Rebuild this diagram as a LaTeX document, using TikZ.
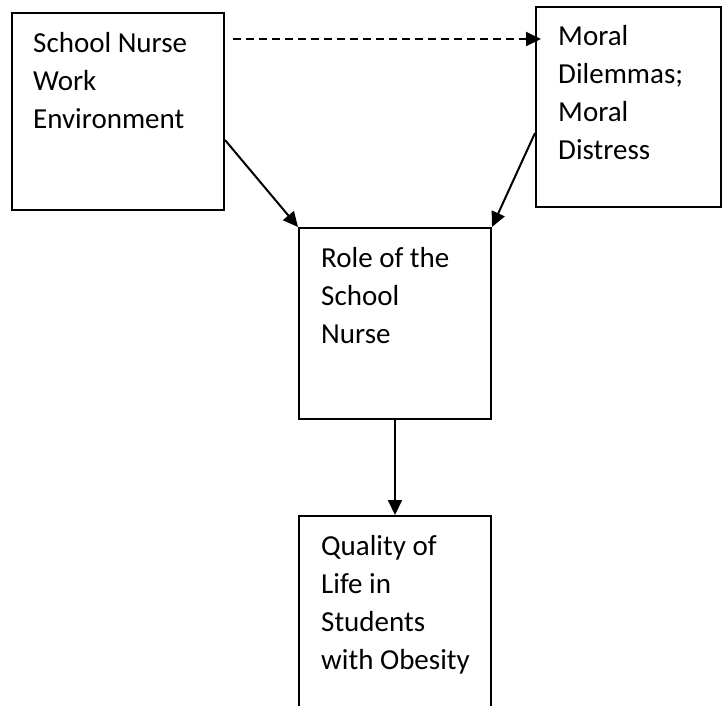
\documentclass[tikz,border=0pt]{standalone}
\usepackage{fontspec}
\setmainfont{Carlito}
\usetikzlibrary{arrows.meta}
\begin{document}
\begin{tikzpicture}[x=1pt,y=-1pt,
  box/.style={draw,line width=2pt,inner sep=0pt,minimum width=#1},
  txt/.style={anchor=base west,inner sep=0pt,align=left,font=\fontsize{29}{38}\selectfont},
  arr/.style={line width=2pt,-{Triangle[length=15pt,width=14pt]}}]
\useasboundingbox (0,0) rectangle (725,705);
\begin{scope}
\clip (0,0) rectangle (725,705);
\node[box=212,minimum height=197] (b1) at (118,111.5) {};
\node[box=185,minimum height=200] (b2) at (628.5,107) {};
\node[box=192,minimum height=191] (b3) at (395,323.5) {};
\node[box=192,minimum height=200] (b4) at (395,616) {};
\end{scope}
% base anchor of a multi-line node is the baseline of its last line
\node[txt] (t1) at (33,128) {School Nurse\\Work\\Environment};
\node[txt] (t2) at (558,159) {Moral\\Dilemmas;\\Moral\\Distress};
\node[txt] (t3) at (321,343) {Role of the\\School\\Nurse};
\node[txt] (t4) at (321,669) {Quality of\\Life in\\Students\\with Obesity};
\coordinate (d1) at (233,39);
\coordinate (d2) at (541,39);
\draw[arr,dash pattern=on 8pt off 5pt] (d1) -- (d2);
\draw[arr] ([yshift=-28.5pt]b1.east) -- (b3.north west);
\draw[arr] ([yshift=-26pt]b2.west) -- (b3.north east);
\draw[arr] (b3.south) -- (b4.north);
\end{tikzpicture}
\end{document}
